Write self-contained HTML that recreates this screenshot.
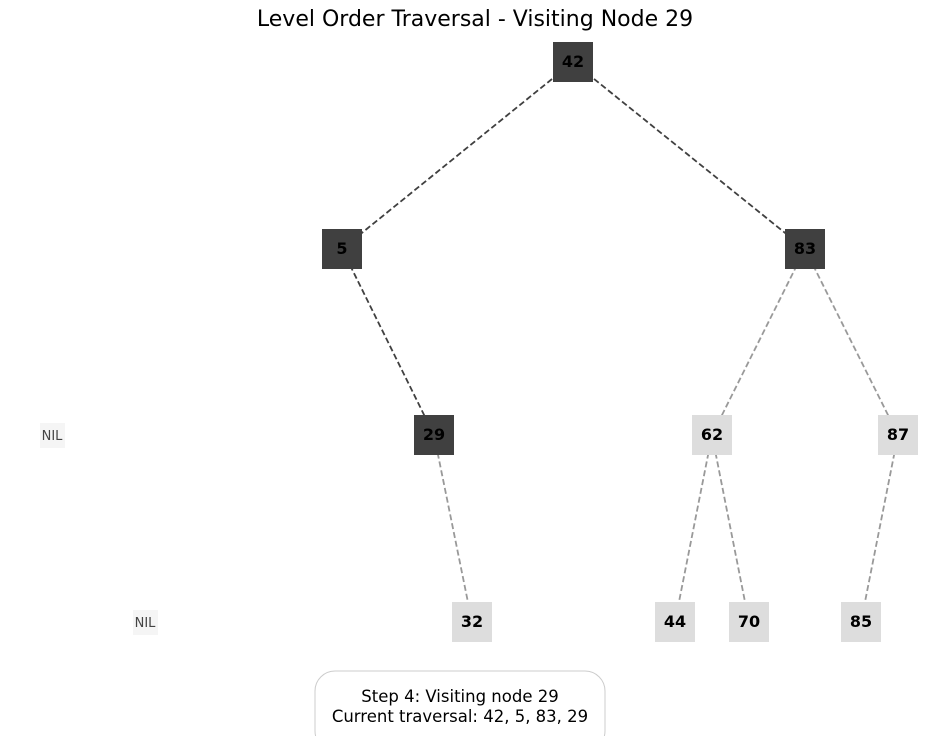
<!DOCTYPE html>
<html><head><style>body{margin:0;background:#fff}svg{display:block}</style></head><body>
<svg width="950" height="736" xmlns="http://www.w3.org/2000/svg" font-family="DejaVu Sans, Liberation Sans, sans-serif">
<rect width="950" height="736" fill="#fff"/>
<text x="475" y="26" text-anchor="middle" font-size="22" fill="#000">Level Order Traversal - Visiting Node 29</text>
<g stroke-width="1.8" stroke-dasharray="6,3" fill="none">
<line x1="573" y1="62" x2="342" y2="249" stroke="#404040"/>
<line x1="573" y1="62" x2="805" y2="249" stroke="#404040"/>
<line x1="342" y1="249" x2="434" y2="435" stroke="#404040"/>
<line x1="805" y1="249" x2="712" y2="435" stroke="#999"/>
<line x1="805" y1="249" x2="898" y2="435" stroke="#999"/>
<line x1="434" y1="435" x2="472" y2="622" stroke="#999"/>
<line x1="712" y1="435" x2="675" y2="622" stroke="#999"/>
<line x1="712" y1="435" x2="749" y2="622" stroke="#999"/>
<line x1="898" y1="435" x2="861" y2="622" stroke="#999"/>
</g>
<g font-size="16" font-weight="bold" text-anchor="middle" fill="#000">
<rect x="553" y="42" width="40" height="40" fill="#404040"/><text x="573" y="67">42</text>
<rect x="322" y="229" width="40" height="40" fill="#404040"/><text x="342" y="254">5</text>
<rect x="785" y="229" width="40" height="40" fill="#404040"/><text x="805" y="254">83</text>
<rect x="414" y="415" width="40" height="40" fill="#404040"/><text x="434" y="440">29</text>
<rect x="692" y="415" width="40" height="40" fill="#dddddd"/><text x="712" y="440">62</text>
<rect x="878" y="415" width="40" height="40" fill="#dddddd"/><text x="898" y="440">87</text>
<rect x="452" y="602" width="40" height="40" fill="#dddddd"/><text x="472" y="627">32</text>
<rect x="655" y="602" width="40" height="40" fill="#dddddd"/><text x="675" y="627">44</text>
<rect x="729" y="602" width="40" height="40" fill="#dddddd"/><text x="749" y="627">70</text>
<rect x="841" y="602" width="40" height="40" fill="#dddddd"/><text x="861" y="627">85</text>
</g>
<g font-size="13" text-anchor="middle" fill="#444">
<rect x="40" y="423" width="25" height="25" fill="#f5f5f5"/><text x="52" y="440">NIL</text>
<rect x="133" y="610" width="25" height="25" fill="#f5f5f5"/><text x="145" y="627">NIL</text>
</g>
<rect x="315" y="671" width="290" height="80" rx="20" fill="#fff" stroke="#ccc" stroke-width="1"/>
<g font-size="16.5" text-anchor="middle" fill="#000">
<text x="460" y="702">Step 4: Visiting node 29</text>
<text x="460" y="722">Current traversal: 42, 5, 83, 29</text>
</g>
</svg>
</body></html>
